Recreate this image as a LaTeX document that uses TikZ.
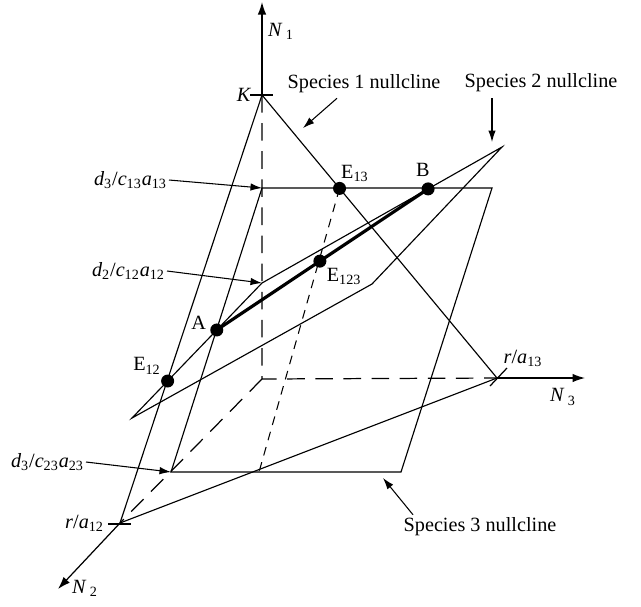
\documentclass[tikz,border=0pt]{standalone}
\usepackage{fontspec}
\setmainfont{Liberation Serif}
\usepackage{tikz}
\usetikzlibrary{positioning, arrows.meta, calc}

\begin{document}
\begin{tikzpicture}[
    x=0.02cm, y=-0.02cm,
    font=\fontsize{11.5}{13.5}\selectfont,
    edge/.style={line width=0.65pt},
    axis/.style={
        line width=0.7pt,
        -{Latex[length=2.5mm, width=1.7mm]}
    },
    hidden/.style={line width=0.7pt, dash pattern=on 10pt off 6pt},
    finedash/.style={line width=0.6pt, dash pattern=on 5pt off 4pt},
    pointer/.style={
        line width=0.6pt,
        -{Latex[length=2.3mm, width=1.5mm]}
    },
    eq/.style={circle, fill, inner sep=0pt, minimum size=2.6mm},
    lbl/.style={inner sep=1pt},
    tick/.style={line width=0.7pt}
]
\useasboundingbox (0,0) rectangle (641,606);

% Axes
\coordinate (O) at (262,379);
\coordinate (K) at (262,95);
\coordinate (n1tip) at (262,2);
\coordinate (ra12) at (120,523);
\coordinate (n2tip) at (58,589);
\coordinate (ra13) at (497,378);
\coordinate (n3tip) at (585,378);

% Species 3 nullcline corners
\coordinate (q13) at (262,188);
\coordinate (s3r) at (492,188);
\coordinate (s3b) at (401,472);
\coordinate (q23) at (171,472);

% Species 2 nullcline corners
\coordinate (q12) at (262,283);
\coordinate (s2l) at (132,418);
\coordinate (s2k) at (372,284);
\coordinate (s2t) at (502,147);

% Equilibria
\coordinate (cE13) at ($(K)!0.33!(ra13)$);
\coordinate (cB) at ($(q12)!0.692!(s2t)$);
\coordinate (cA) at ($(q12)!0.348!(s2l)$);
\coordinate (cE12) at ($(q12)!0.726!(s2l)$);
\coordinate (cE123) at ($(cA)!0.488!(cB)$);
\coordinate (m13) at (259,472);

% Planes
\draw[edge] (K) -- (ra12) -- (ra13) -- cycle;
\draw[edge] (q13) -- (s3r) -- (s3b) -- (q23) -- cycle;
\draw[edge] (s2l) -- (s2k) -- (s2t) -- (q12) -- cycle;

% Axes
\draw[hidden] (K) -- (O) -- (ra13);
\draw[hidden] (O) -- (ra12);
\draw[axis] (K) -- (n1tip);
\draw[axis] (ra13) -- (n3tip);
\draw[axis] (ra12) -- (n2tip);
\draw[tick] ($(K)+(-12,0)$) -- ($(K)+(11,0)$);
\draw[tick] ($(ra12)+(-12,1)$) -- ($(ra12)+(11,1)$);
\draw[tick] ($(ra13)+(-7,8)$) -- ($(ra13)+(10,-10)$);

% Intersection of species 1 and 3 nullclines
\draw[finedash] (cE13) -- (m13);

% Line of equilibria
\draw[line width=1.8pt] (cA) -- (cB);

% Points
\node[eq] (E13) at (cE13) {};
\node[eq] (B) at (cB) {};
\node[eq] (A) at (cA) {};
\node[eq] (E12) at (cE12) {};
\node[eq] (E123) at (cE123) {};

\node[lbl, above right=0pt and -3pt of E13] (lE13) {E\textsubscript{13}};
\node[lbl, above=2pt of B, xshift=-3pt] (lB) {B};
\node[lbl, below right=0pt and 0pt of E123] (lE123) {E\textsubscript{123}};
\node[lbl, left=1pt of A, yshift=4pt] (lA) {A};
\node[lbl, above left=0pt and 0pt of E12] (lE12) {E\textsubscript{12}};

% Axis labels
\node[lbl] (n1lbl) at (281,31) {\textit{N}\,\textsubscript{1}};
\node[lbl] (n2lbl) at (85,588) {\textit{N}\,\textsubscript{2}};
\node[lbl] (n3lbl) at (563,397) {\textit{N}\,\textsubscript{3}};
\node[lbl, left=5pt of K] (klbl) {\textit{K}};
\node[lbl] (ra13lbl) at (523,358) {\textit{r}/\textit{a}\textsubscript{13}};
\node[lbl, anchor=east] (ra12lbl) at (106,523) {\textit{r}/\textit{a}\textsubscript{12}};

% Intercept labels
\node[lbl, anchor=east] (lq13) at (169,180)
    {\textit{d}\textsubscript{3}/\textit{c}\textsubscript{13}\textit{a}\textsubscript{13}};
\node[lbl, anchor=east] (lq12) at (167,271)
    {\textit{d}\textsubscript{2}/\textit{c}\textsubscript{12}\textit{a}\textsubscript{12}};
\node[lbl, anchor=east] (lq23) at (86,462)
    {\textit{d}\textsubscript{3}/\textit{c}\textsubscript{23}\textit{a}\textsubscript{23}};
\draw[pointer] (lq13.east) -- (q13);
\draw[pointer] (lq12.east) -- (q12);
\draw[pointer] (lq23.east) -- (q23);

% Nullcline captions
\node[lbl] (sp1) at (364,84) {Species 1 nullcline};
\node[lbl] (sp2) at (541,83) {Species 2 nullcline};
\node[lbl] (sp3) at (480,527) {Species 3 nullcline};
\coordinate (sp1tip) at (303,128);
\coordinate (sp2tip) at (492,142);
\coordinate (sp3tip) at (383,478);
\draw[pointer] ($(sp1.south)+(-27,3)$) -- (sp1tip);
\draw[pointer] ($(sp2.south)+(-49,4)$) -- (sp2tip);
\draw[pointer] ($(sp3.north)+(-67,-1)$) -- (sp3tip);

\end{tikzpicture}
\end{document}
